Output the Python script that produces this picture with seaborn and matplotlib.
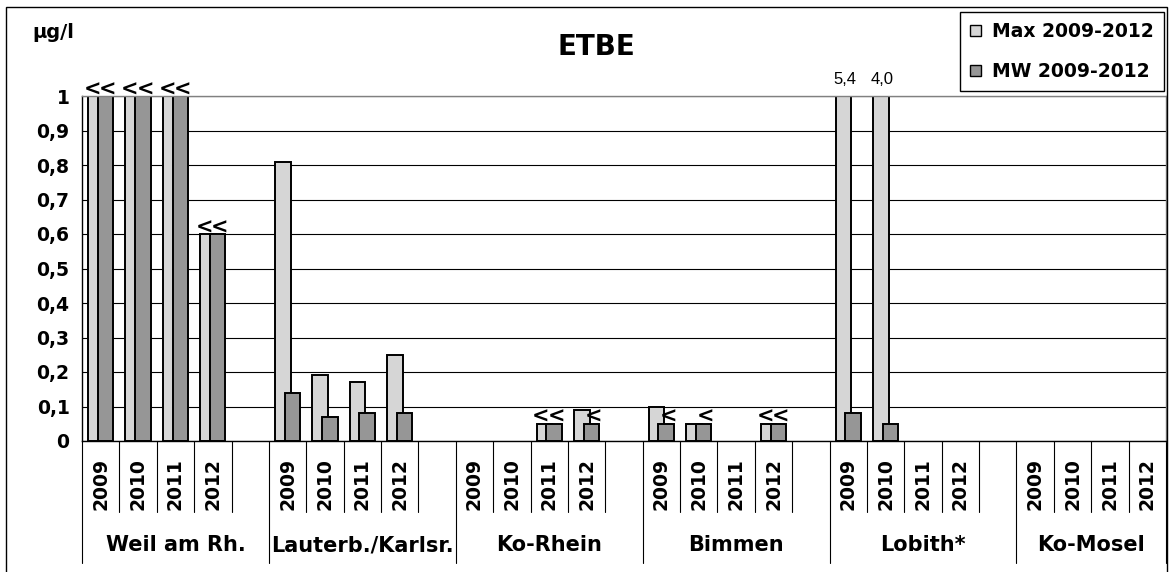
import pandas as pd
import matplotlib
matplotlib.use("Agg")
import matplotlib.pyplot as plt
import matplotlib.transforms as mtrans
from matplotlib.patches import Rectangle
import seaborn as sns

# Daten ETBE, Max und Mittelwert 2009-2012
stations = ["Weil am Rh.", "Lauterb./Karlsr.", "Ko-Rhein", "Bimmen", "Lobith*", "Ko-Mosel"]
years = ["2009", "2010", "2011", "2012"]
series = ["Max 2009-2012", "MW 2009-2012"]

# None = kein Wert
max_vals = [
    [1.0, 1.0, 1.0, 0.6],
    [0.81, 0.19, 0.17, 0.25],
    [None, None, 0.05, 0.09],
    [0.10, 0.05, None, 0.05],
    [5.4, 4.0, None, None],
    [None, None, None, None],
]
mw_vals = [
    [1.0, 1.0, 1.0, 0.6],
    [0.14, 0.07, 0.08, 0.08],
    [None, None, 0.05, 0.05],
    [0.05, 0.05, None, 0.05],
    [0.08, 0.05, None, None],
    [None, None, None, None],
]
# 1 = "<" (unter Bestimmungsgrenze)
max_lt = [[1, 1, 1, 1], [0, 0, 0, 0], [0, 0, 1, 0], [0, 0, 0, 1], [0, 0, 0, 0], [0, 0, 0, 0]]
mw_lt = [[1, 1, 1, 1], [0, 0, 0, 0], [0, 0, 1, 1], [1, 1, 0, 1], [0, 0, 0, 0], [0, 0, 0, 0]]

# 5 Plaetze je Station (4 Jahre + Luecke), letzte Station ohne Luecke
group_start = [5 * i for i in range(len(stations))]
n_slots = group_start[-1] + len(years)

rows = []
for i in range(len(stations)):
    for j in range(len(years)):
        slot = group_start[i] + j
        if max_vals[i][j] is not None:
            rows.append(dict(slot=slot, serie=series[0], wert=max_vals[i][j], lt=max_lt[i][j]))
        if mw_vals[i][j] is not None:
            rows.append(dict(slot=slot, serie=series[1], wert=mw_vals[i][j], lt=mw_lt[i][j]))
df = pd.DataFrame(rows)

sns.set_style("white")
plt.rcParams["font.family"] = ["DejaVu Sans"]
plt.rcParams["font.weight"] = "bold"
plt.rcParams["text.color"] = "black"
plt.rcParams["ytick.color"] = "black"
plt.rcParams["xtick.color"] = "black"

fig = plt.figure(figsize=(11.74, 5.72), dpi=100)
ax = fig.add_axes([82 / 1174, 1 - 441 / 572, (1166 - 82) / 1174, (441 - 96) / 572])

sns.barplot(data=df, x="slot", y="wert", hue="serie", order=list(range(n_slots)),
            hue_order=series, palette=["#d6d6d6", "#969696"], dodge=True,
            width=0.52, gap=-0.6, edgecolor="black", linewidth=1.4,
            errorbar=None, ax=ax)

ax.set_xlim(-0.5, n_slots - 0.5)
ax.set_ylim(0, 1)
ax.set_xlabel("")
ax.set_ylabel("")
ax.set_yticks([k / 10 for k in range(11)])
ax.set_yticklabels(["0", "0,1", "0,2", "0,3", "0,4", "0,5", "0,6", "0,7", "0,8", "0,9", "1"],
                   fontsize=13.5, fontweight="bold", color="black")
ax.set_xticks([])
ax.tick_params(axis="y", length=6, width=0.8, color="black", direction="out", pad=3)
ax.yaxis.grid(True, color="black", lw=0.8)
ax.set_axisbelow(True)
for s in ["top", "right"]:
    ax.spines[s].set_color("#808080")
for s in ["left", "bottom"]:
    ax.spines[s].set_color("black")
for s in ax.spines.values():
    s.set_linewidth(1)

# "<" Zeichen und Werte ausserhalb der Skala
lookup = {(r.slot, r.serie): r for r in df.itertuples()}
for k, (serie, cont) in enumerate(zip(series, ax.containers)):
    for p in cont.patches:
        cx = p.get_x() + p.get_width() / 2
        h = p.get_height()
        if h != h:
            continue
        r = lookup[(int(round(cx)), serie)]
        if r.lt:
            ax.annotate("<", (cx, min(h, 1)), xytext=(-2.5 if k == 0 else 1.5, 0.5),
                        textcoords="offset points", ha="center", va="baseline",
                        fontsize=15, fontweight="bold", annotation_clip=False)
        if h > 1:
            ax.annotate(f"{h:.1f}".replace(".", ","), (cx, 1), xytext=(1, 9),
                        textcoords="offset points", ha="center", va="baseline",
                        fontsize=12, fontweight="normal", family="Liberation Sans",
                        annotation_clip=False)

# Kategorienachse: Jahre und Stationen
trans = mtrans.blended_transform_factory(ax.transData, ax.transAxes)
for b in range(n_slots + 1):
    long_line = b in group_start or b == n_slots
    ax.plot([b - 0.5, b - 0.5], [0, -0.355 if long_line else -0.206], transform=trans,
            color="black", lw=0.8, clip_on=False)
for i, st in enumerate(stations):
    for j, yr in enumerate(years):
        ax.text(group_start[i] + j, -0.2, yr, transform=trans, rotation=90,
                ha="center", va="bottom", fontsize=13.5, fontweight="bold")
    end = group_start[i + 1] if i + 1 < len(stations) else n_slots
    ax.text((group_start[i] + end - 1) / 2, -0.302, st, transform=trans,
            ha="center", va="center", fontsize=15, fontweight="bold")

# Legende
ax.get_legend().remove()
handles, labels = ax.get_legend_handles_labels()
leg = fig.legend(handles, labels, loc="upper right", bbox_to_anchor=(1164 / 1174, 1 - 12 / 572),
                 frameon=True, fancybox=False, edgecolor="black", framealpha=1,
                 prop=dict(size=13.5, weight="bold"), handlelength=0.55, handleheight=0.55,
                 handletextpad=0.6, labelspacing=1.1, borderpad=0.55, borderaxespad=0)
leg.get_frame().set_linewidth(1)
for hd in leg.legend_handles:
    hd.set_edgecolor("black")
    hd.set_linewidth(1)

fig.text(596 / 1174, 1 - 47 / 572, "ETBE", ha="center", va="center", fontsize=20, fontweight="bold")
fig.text(32 / 1174, 1 - 32 / 572, "µg/l", ha="left", va="center", fontsize=14, fontweight="bold")

# Rahmen
fig.add_artist(Rectangle((6 / 1174, -0.05), (1167 - 6) / 1174, 1.05 - 7 / 572,
                         transform=fig.transFigure, fill=False, edgecolor="black", lw=1))

fig.savefig("out.png", dpi=100)
